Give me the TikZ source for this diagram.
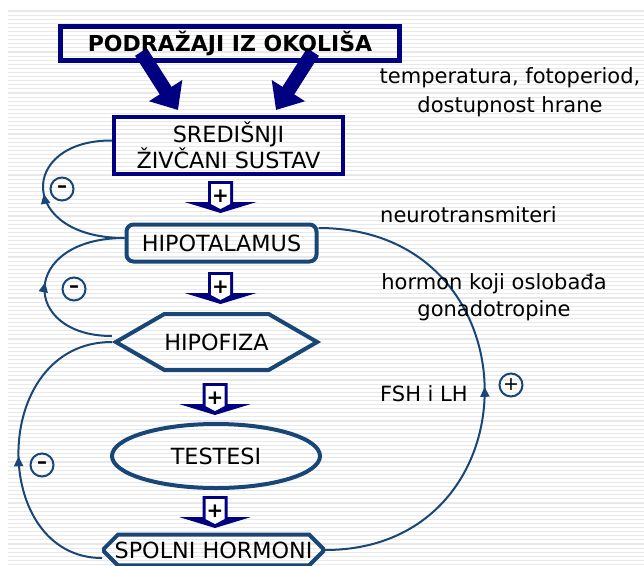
\documentclass[tikz,border=0pt]{standalone}
\usepackage{fontspec}
\setmainfont{DejaVu Sans}
\usetikzlibrary{arrows.meta}
\usetikzlibrary{shapes.geometric,shapes.misc,shapes.symbols}
\usetikzlibrary{decorations.markings}
\definecolor{navyb}{HTML}{000080}
\definecolor{steel}{HTML}{184676}

\begin{document}
\begin{tikzpicture}[x=1pt,y=-1pt,
every node/.style={font=\fontsize{21}{24.5}\selectfont,inner sep=0pt},
boxfont/.style={font=\fontsize{22.3}{25}\selectfont},
navybox/.style={draw=navyb,line width=4pt,align=center,boxfont},
steelbox/.style={draw=steel,line width=4pt,boxfont},
bigarr/.style={draw=navyb,line width=14pt,-{Triangle[length=23pt,width=38pt]}},
fb/.style={color=steel,line width=2pt,postaction={decorate},
  decoration={markings,mark=at position #1 with {\arrow{Triangle[length=10pt,width=9pt]}}}},
sgn/.style={circle,draw=steel,line width=2pt,minimum size=23pt,font=\fontsize{19}{19}\selectfont},
]
\useasboundingbox (0,0) rectangle (644,565);
\foreach \i in {0,...,135}
  \draw[black!9,line width=1.1pt] (8,11+4.1*\i) -- (644,11+4.1*\i);

\coordinate (a1) at (141,52);
\coordinate (b1) at (178,110);
\coordinate (a2) at (313,52);
\coordinate (b2) at (276,110);
\draw[bigarr] (a1) -- (b1);
\draw[bigarr] (a2) -- (b2);

\node[navybox,line width=5pt,minimum width=339pt,minimum height=34pt,font=\fontsize{22}{22}\selectfont\bfseries] (pod) at (230,43.5) {PODRAŽAJI IZ OKOLIŠA};
\node[navybox,minimum width=229pt,minimum height=57pt] (sred) at (228.5,145.5) {SREDIŠNJI\\ŽIVČANI SUSTAV};
\node[steelbox,rounded corners=7pt,minimum width=190pt,minimum height=37pt] (hipot) at (221.5,243) {HIPOTALAMUS};
\node[steelbox,signal,signal to=west and east,signal pointer angle=60,minimum width=199pt,minimum height=56pt] (hipof) at (216.5,342) {HIPOFIZA};
\node[steelbox,ellipse,minimum width=208pt,minimum height=64pt] (test) at (216,456) {TESTESI};
\node[steelbox,chamfered rectangle,chamfered rectangle xsep=7pt,chamfered rectangle ysep=7pt,minimum width=219pt,minimum height=26pt] (spol) at (213.5,550) {SPOLNI HORMONI};

\foreach \x/\y/\n in {220.5/181/1,220.5/272/2,215/383/3,215/496/4}{
  \fill[navyb] (\x-12.5,\y) -- (\x+12.5,\y) -- (\x+12.5,\y+21) -- (\x+36,\y+21) -- (\x,\y+32) -- (\x-36,\y+21) -- (\x-12.5,\y+21) -- cycle;
  \fill[white] (\x-9.5,\y+3) -- (\x+9.5,\y+3) -- (\x+9.5,\y+23) -- (\x,\y+28) -- (\x-9.5,\y+23) -- cycle;
  \node[font=\fontsize{20}{20}\selectfont\bfseries] (p\n) at (\x,\y+15) {+};
}

\draw[fb=0.5] ([yshift=5pt]hipot.west) .. controls (18,238) and (18,140) .. ([yshift=5pt]sred.west);
\draw[fb=0.5] ([yshift=6pt]hipof.west) .. controls (20,336) and (20,238) .. ([yshift=5pt]hipot.west);
\draw[fb=0.47] ([yshift=-8pt]spol.west) .. controls (-11,558) and (-11,342) .. (hipof.west);
\draw[fb=0.5] (spol.east) .. controls (539,550) and (539,228) .. ([yshift=15pt]hipot.east);

\node[sgn,font=\fontsize{20}{20}\selectfont\bfseries] (m1) at (62,189) {–};
\node[sgn,font=\fontsize{20}{20}\selectfont\bfseries] (m2) at (74,289) {–};
\node[sgn,font=\fontsize{20}{20}\selectfont\bfseries] (m3) at (42,465) {–};
\node[sgn] (pl) at (511,385) {+};

\node[align=center,font=\fontsize{21}{29}\selectfont] (env) at (510,92) {temperatura, fotoperiod,\\dostupnost hrane};
\node[anchor=west] (nt) at (380,215) {neurotransmiteri};
\node[align=center,font=\fontsize{21}{26.5}\selectfont] (gn) at (494,297) {hormon koji oslobađa\\gonadotropine};
\node[anchor=west] (fsh) at (380,394) {FSH i LH};
\end{tikzpicture}
\end{document}
